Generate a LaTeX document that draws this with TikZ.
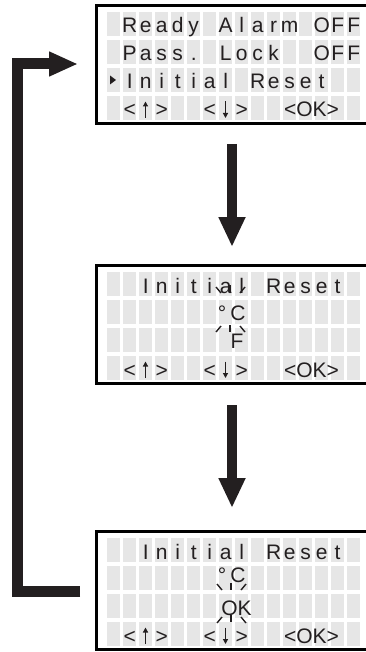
\documentclass[tikz,border=0pt]{standalone}
\usepackage{fontspec}
\newfontfamily\lcdfont{Liberation Sans}
\usetikzlibrary{arrows.meta}
\definecolor{ink}{RGB}{35,31,32}
\definecolor{cellgray}{RGB}{230,230,230}
\newcommand\lcdline[1]{\foreach \lcdch in {#1}{\makebox[16pt]{\lcdch}}}
\newcommand\lcdcells[1]{%
  \foreach \r in {0,...,3}{\foreach \k in {0,...,15}{%
    \fill[cellgray] (107+16*\k,#1+8+28*\r) rectangle ++(13,24);}}}
\newcommand\lcdkeys[2]{% #1 top, #2 name prefix
  \node[rowtext] (#2r4) at (105.5,#1+113) {\lcdline{{},<,{},>,{},{},<,{},>}};
  \node[chartext] (#2ok) at (311.5,#1+113) {<OK>};
  \coordinate (#2ub) at (145.5,#1+114);
  \coordinate (#2ut) at (145.5,#1+97.5);
  \coordinate (#2dt) at (225.5,#1+97.5);
  \coordinate (#2db) at (225.5,#1+114);
  \draw[keyarrow] (#2ub) -- (#2ut);
  \draw[keyarrow] (#2dt) -- (#2db);}
\begin{document}
\begin{tikzpicture}[x=1pt,y=-1pt,
  lcdbox/.style={draw=black,line width=3pt,inner sep=0pt,minimum width=283.5pt,minimum height=118pt},
  rowtext/.style={anchor=base west,inner sep=0pt,font=\lcdfont\fontsize{21}{21}\selectfont,text=ink},
  chartext/.style={anchor=base,inner sep=0pt,font=\lcdfont\fontsize{21}{21}\selectfont,text=ink},
  ray/.style={draw=ink,line width=1.4pt},
  keyarrow/.style={draw=ink,line width=1.3pt,-{Triangle[length=5pt,width=5pt]}},
  bigarrow/.style={draw=ink,line width=10pt,-{Triangle[length=30pt,width=25pt]}},
  looparrow/.style={draw=ink,line width=11pt,line join=miter,-{Triangle[length=29pt,width=23pt]}}]
\useasboundingbox (0,0) rectangle (366,652);
\clip (0,0) rectangle (366,652);
% ---------- screen 1
\lcdcells{4}
\node[lcdbox] (s1) at (238.25,64.5) {};
\node[rowtext] (s1r1) at (105.5,33) {\lcdline{{},R,e,a,d,y,{},A,l,a,r,m,{},O,F,F}};
\node[rowtext] (s1r2) at (105.5,61) {\lcdline{{},P,a,s,s,.,{},L,o,c,k,{},{},O,F,F}};
\node[rowtext] (s1r3) at (105.5,89) {\lcdline{{},I,n,i,t,i,a,l,{},R,e,s,e,t}};
\lcdkeys{4}{s1}
\fill[ink] (110,75.5) -- (116,80) -- (110,84.5) -- cycle;
% ---------- screen 2
\lcdcells{264}
\node[lcdbox] (s2) at (238.25,324.5) {};
\node[rowtext] (s2r1) at (105.5,293) {\lcdline{{},{},I,n,i,t,i,a,l,{},R,e,s,e,t}};
\node[chartext] (s2deg) at (222,320) {°};
\node[chartext] (s2c) at (238,320) {C};
\node[chartext] (s2f) at (237,348) {F};
\lcdkeys{264}{s2}
\draw[ray] (216,287) -- (221,293);
\draw[ray] (230,285) -- (230,292);
\draw[ray] (245,287) -- (240,293);
\draw[ray] (216,332) -- (221,326);
\draw[ray] (230,325) -- (230,332);
\draw[ray] (245,332) -- (240,326);
% ---------- screen 3
\lcdcells{530}
\node[lcdbox] (s3) at (238.25,590.5) {};
\node[rowtext] (s3r1) at (105.5,559) {\lcdline{{},{},I,n,i,t,i,a,l,{},R,e,s,e,t}};
\node[chartext] (s3deg) at (222,582) {°};
\node[chartext] (s3c) at (238,582) {C};
\node[chartext] (s3k) at (236.5,615) {OK};
\lcdkeys{530}{s3}
\draw[ray] (217,584) -- (222,590);
\draw[ray] (231,583) -- (231,590);
\draw[ray] (246,584) -- (241,590);
\draw[ray] (217,623) -- (222,617);
\draw[ray] (231,615) -- (231,622);
\draw[ray] (246,623) -- (241,617);
% ---------- connectors
\coordinate (a1s) at (232,144);
\coordinate (a1e) at (232,247);
\coordinate (a2s) at (232,405);
\coordinate (a2e) at (232,508);
\draw[bigarrow] (a1s) -- (a1e);
\draw[bigarrow] (a2s) -- (a2e);
\coordinate (l0) at (80,591.5);
\coordinate (l1) at (17.5,591.5);
\coordinate (l2) at (17.5,64);
\coordinate (l3) at (78,64);
\draw[looparrow] (l0) -- (l1) -- (l2) -- (l3);
\end{tikzpicture}
\end{document}
